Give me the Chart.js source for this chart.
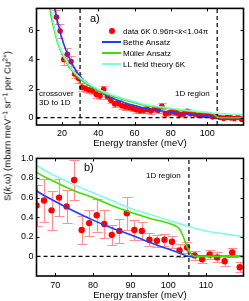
<!DOCTYPE html>
<html>
<head>
<meta charset="utf-8">
<title>S(k,ω) energy cut</title>
<script src="https://cdn.jsdelivr.net/npm/chart.js@4.4.1/dist/chart.umd.min.js"></script>
<style>
  html, body { margin: 0; padding: 0; background: #fff; }
  #fig { position: relative; width: 249px; height: 301px; overflow: hidden; font-family: "Liberation Sans", Arial, sans-serif; color: #000; }
  #fig canvas { position: absolute; left: 0; }
  .txt { position: absolute; white-space: nowrap; line-height: 8px; font-size: 8px; }
  .sw { position: absolute; height: 2px; width: 19px; }
  .dot { position: absolute; width: 6px; height: 6px; border-radius: 3px; background: #ff0000; }
  sup { font-size: 70%; vertical-align: 0; position: relative; top: -0.45em; }
</style>
</head>
<body>
<div id="fig">
  <canvas id="chartTop" width="249" height="150" style="top:0"></canvas>
  <canvas id="chartBottom" width="249" height="151" style="top:150px"></canvas>

  <div class="txt" style="left:8px; top:126px; font-size:9.5px; line-height:10px; transform: translate(-50%,-50%) rotate(-90deg);">S(<i>k</i>,ω) (mbarn meV<sup>−1</sup> sr<sup>−1</sup> per Cu<sup>2+</sup>)</div>

  <!-- legend panel a) -->
  <div class="dot" style="left:109px; top:28px;"></div>
  <div class="txt" style="left:123px; top:28px;">data 6K 0.96π&lt;<i>k</i>&lt;1.04π</div>
  <div class="sw" style="left:102px; top:41px; background:#1f3dff;"></div>
  <div class="txt" style="left:123px; top:39px;">Bethe Ansatz</div>
  <div class="sw" style="left:102px; top:52px; background:#44dd00;"></div>
  <div class="txt" style="left:123px; top:50px;">Müller Ansatz</div>
  <div class="sw" style="left:102px; top:63px; background:#80ffdd;"></div>
  <div class="txt" style="left:123px; top:61px;">LL field theory 6K</div>

  <div class="txt" style="left:90px; top:13px; font-size:11px; line-height:11px;">a)</div>
  <div class="txt" style="left:39px; top:90px;">crossover</div>
  <div class="txt" style="left:39px; top:99px;">3D to 1D</div>
  <div class="txt" style="left:175px; top:90px;">1D region</div>

  <div class="txt" style="left:84px; top:162px; font-size:11px; line-height:11px;">b)</div>
  <div class="txt" style="left:146px; top:172px;">1D region</div>
</div>

<script>
// gemessene Daten (6K, 0.96π<k<1.04π)
const energy = [17, 19, 21, 23, 25, 27, 29, 31, 33, 35,
                37, 39, 41, 43, 45, 47, 49, 51, 53, 55,
                57, 59, 61, 63, 65, 67, 69, 71, 73, 75,
                77, 79, 81, 83, 85, 87, 89, 91, 93, 95,
                97, 99, 101, 103, 105, 107, 109, 111, 113, 115,
                117, 119];
const intensity = [6.9, 5.95, 4.0, 4.35, 3.85, 3.0, 2.7, 2.1, 2.0, 1.9,
                   1.85, 1.6, 1.5, 1.95, 1.45, 1.2, 0.95, 1.0, 0.82, 0.76,
                   0.72, 0.64, 0.55, 0.5, 0.52, 0.57, 0.47, 0.60, 0.51, 0.78,
                   0.27, 0.34, 0.42, 0.33, 0.22, 0.26, 0.44, 0.27, 0.26, 0.17,
                   0.16, 0.17, 0.15, 0.06, 0.09, 0.01, -0.03, 0.02, -0.01, -0.05,
                   0.04, -0.11];
const intensityErr = [0.5, 0.45, 0.35, 0.4, 0.35, 0.3, 0.3, 0.25, 0.25, 0.22,
                      0.22, 0.22, 0.2, 0.22, 0.2, 0.2, 0.2, 0.2, 0.2, 0.2,
                      0.2, 0.2, 0.2, 0.2, 0.21, 0.22, 0.2, 0.19, 0.17, 0.2,
                      0.14, 0.13, 0.17, 0.14, 0.1, 0.12, 0.17, 0.1, 0.09, 0.065,
                      0.06, 0.06, 0.06, 0.065, 0.06, 0.05, 0.04, 0.05, 0.05, 0.05,
                      0.05, 0.05];

// Theoriekurven
const betheE = [14, 15, 16, 17, 18, 20, 22, 24, 26, 28, 30, 35, 40, 45, 50, 55, 60, 65, 70, 75, 80, 85, 90, 95, 100, 103, 105.5, 120];
const betheS = [9.2, 8.3, 7.5, 6.9, 6.4, 5.45, 4.7, 4.1, 3.6, 3.2, 2.85, 2.25, 1.85, 1.5, 1.23, 1.01, 0.83, 0.67, 0.56, 0.46, 0.37, 0.29, 0.22, 0.145, 0.075, 0.035, 0, 0];
const mullerE = [12, 13, 14, 16, 18, 20, 22, 25, 28, 30, 35, 40, 45, 50, 55, 60, 65, 70, 75, 80, 85, 90, 95, 100, 102, 103, 104, 105, 106, 107, 120];
const mullerS = [8.6, 7.8, 7.0, 5.9, 5.0, 4.4, 3.9, 3.3, 2.9, 2.65, 2.2, 1.85, 1.6, 1.4, 1.2, 1.03, 0.86, 0.76, 0.67, 0.6, 0.52, 0.45, 0.39, 0.34, 0.31, 0.28, 0.2, 0.1, 0.03, 0, 0];
const llE = [12.5, 13.5, 14.5, 16, 18, 20, 22, 25, 28, 30, 35, 40, 45, 50, 55, 60, 65, 70, 75, 80, 85, 90, 95, 100, 105, 110, 115, 120];
const llS = [8.6, 7.8, 7.1, 6.1, 5.15, 4.5, 4.0, 3.4, 2.98, 2.75, 2.3, 1.95, 1.68, 1.47, 1.27, 1.1, 0.93, 0.82, 0.73, 0.65, 0.57, 0.49, 0.43, 0.37, 0.31, 0.26, 0.23, 0.2];

// Achsen
const topXTicks = [20, 40, 60, 80, 100];
const topYTicks = [0, 2, 4, 6];
const bottomXTicks = [70, 80, 90, 100, 110];
const bottomYTicks = [0, 0.2, 0.4, 0.6, 0.8, 1];
const topRange = { xMin: 6, xMax: 120, yMin: -0.5, yMax: 7.5 };
const bottomRange = { xMin: 65, xMax: 120, yMin: -0.2, yMax: 1 };
const topBoundaries = [30, 105.5];
const bottomBoundaries = [105.5];

Chart.defaults.font.family = "'Liberation Sans', Arial, sans-serif";
Chart.defaults.color = "#000";

const toPoints = (xs, ys) => xs.map((x, i) => ({ x: x, y: ys[i] }));

// Fehlerbalken zeichnen
const errorBarPlugin = {
  id: "errorBars",
  beforeDatasetDraw(chart, args) {
    const ds = chart.data.datasets[args.index];
    if (!ds.errors) return;
    const { ctx, chartArea: a, scales } = chart;
    ctx.save();
    ctx.beginPath();
    ctx.rect(a.left, a.top, a.right - a.left, a.bottom - a.top);
    ctx.clip();
    ctx.strokeStyle = ds.errorColor;
    ctx.lineWidth = ds.errorWidth;
    ctx.beginPath();
    ds.data.forEach((p, i) => {
      const x = Math.round(scales.x.getPixelForValue(p.x)) + 0.5;
      const y1 = Math.round(scales.y.getPixelForValue(p.y - ds.errors[i])) + 0.5;
      const y2 = Math.round(scales.y.getPixelForValue(p.y + ds.errors[i])) + 0.5;
      ctx.moveTo(x, y1); ctx.lineTo(x, y2);
      ctx.moveTo(x - ds.capWidth, y1); ctx.lineTo(x + ds.capWidth, y1);
      ctx.moveTo(x - ds.capWidth, y2); ctx.lineTo(x + ds.capWidth, y2);
    });
    ctx.stroke();
    ctx.restore();
  }
};

// Rahmen und Ticks nach innen (wie Matlab)
const framePlugin = {
  id: "frame",
  afterDatasetsDraw(chart) {
    const { ctx, chartArea: a, scales } = chart;
    ctx.save();
    ctx.strokeStyle = "#000";
    ctx.lineWidth = 1;
    ctx.beginPath();
    scales.x.ticks.forEach(t => {
      const px = Math.round(scales.x.getPixelForValue(t.value)) + 0.5;
      ctx.moveTo(px, a.bottom); ctx.lineTo(px, a.bottom - 3);
      ctx.moveTo(px, a.top); ctx.lineTo(px, a.top + 3);
    });
    scales.y.ticks.forEach(t => {
      const py = Math.round(scales.y.getPixelForValue(t.value)) + 0.5;
      ctx.moveTo(a.left, py); ctx.lineTo(a.left + 3, py);
      ctx.moveTo(a.right, py); ctx.lineTo(a.right - 3, py);
    });
    ctx.stroke();
    ctx.lineWidth = 1.6;
    ctx.strokeRect(a.left, a.top, a.right - a.left, a.bottom - a.top);
    ctx.restore();
  }
};

function curve(xs, ys, color) {
  return {
    data: toPoints(xs, ys),
    showLine: true,
    borderColor: color,
    borderWidth: 1.6,
    pointRadius: 0,
    cubicInterpolationMode: "monotone",
    clip: 0,
    order: 1,
  };
}

function dashed(points) {
  return {
    data: points,
    showLine: true,
    borderColor: "#000",
    borderWidth: 1.2,
    borderDash: [4, 3],
    pointRadius: 0,
    clip: 0,
    order: 2,
  };
}

function createPanel(id, range, xTicks, yTicks, boundaries, style) {
  const ctx = document.getElementById(id).getContext("2d");
  const datasets = [
    {
      data: toPoints(energy, intensity),
      errors: intensityErr,
      errorColor: "rgba(255, 70, 70, 0.6)",
      errorWidth: style.errWidth,
      capWidth: style.cap,
      backgroundColor: "#ff0000",
      borderColor: "#ff0000",
      pointRadius: style.radius,
      pointBorderWidth: 0,
      clip: 0,
      order: 3,
    },
    dashed([{ x: range.xMin, y: 0 }, { x: range.xMax, y: 0 }]),
  ];
  boundaries.forEach(b => datasets.push(dashed([{ x: b, y: range.yMin }, { x: b, y: range.yMax }])));
  datasets.push(curve(llE, llS, "#80ffdd"));
  datasets.push(curve(mullerE, mullerS, "#44dd00"));
  datasets.push(curve(betheE, betheS, "#1f3dff"));

  return new Chart(ctx, {
    type: "scatter",
    data: { datasets: datasets },
    options: {
      responsive: false,
      animation: false,
      devicePixelRatio: 1,
      layout: { padding: { left: 0, right: 5.5, top: 5, bottom: 0 } },
      plugins: { legend: { display: false }, tooltip: { enabled: false } },
      scales: {
        x: {
          type: "linear",
          min: range.xMin,
          max: range.xMax,
          grid: { display: false, drawTicks: false },
          border: { display: false },
          ticks: { padding: style.tickPad, font: { size: 9 } },
          afterBuildTicks: s => { s.ticks = xTicks.map(v => ({ value: v })); },
          afterFit: s => { s.height = 25; },
          title: { display: true, text: "Energy transfer (meV)", font: { size: 9.5 }, padding: { top: 0, bottom: style.titlePad } },
        },
        y: {
          type: "linear",
          min: range.yMin,
          max: range.yMax,
          grid: { display: false, drawTicks: false },
          border: { display: false },
          ticks: { padding: 3, font: { size: 9 } },
          afterBuildTicks: s => { s.ticks = yTicks.map(v => ({ value: v })); },
          afterFit: s => { s.width = 36.5; },
        },
      },
    },
    plugins: [errorBarPlugin, framePlugin],
  });
}

createPanel("chartTop", topRange, topXTicks, topYTicks, topBoundaries,
  { cap: 4, errWidth: 1, radius: 2.8, tickPad: 3, titlePad: 1.3 });
createPanel("chartBottom", bottomRange, bottomXTicks, bottomYTicks, bottomBoundaries,
  { cap: 5, errWidth: 1.2, radius: 3.2, tickPad: 4, titlePad: 0 });
</script>
</body>
</html>
